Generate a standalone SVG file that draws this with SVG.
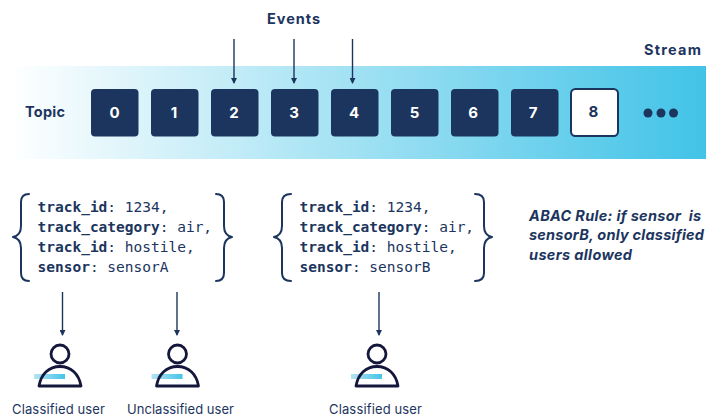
<svg xmlns="http://www.w3.org/2000/svg" width="706" height="420" viewBox="0 0 706 420">
<style>
.s{font-family:"Inter","Noto Sans",sans-serif}
.h{font-size:14.500px;font-weight:700;fill:#1c355e}
.n{font-size:15px;font-weight:700;text-anchor:middle;fill:#fff}
.b{fill:#1c355e}
.m{font-family:"DejaVu Sans Mono","Liberation Mono",monospace;font-size:14.500px;fill:#1c355e}
.m tspan{font-weight:700}
.c{fill:none;stroke:#1c355e;stroke-width:2;stroke-linecap:round;stroke-linejoin:round}
.l{stroke:#1c355e;stroke-width:1.400;fill:none;marker-end:url(#a)}
.u{font-size:13px;fill:#1c355e}
.p{fill:none;stroke:#14163c;stroke-width:2.800;stroke-linejoin:round}
.r{font-size:14.500px;font-weight:700;font-style:italic;fill:#1c355e}
</style>
<defs>
<linearGradient id="g" x1="0" x2="1" y1="0" y2="0"><stop offset="0" stop-color="#fff"/><stop offset="1" stop-color="#41c3e7"/></linearGradient>
<linearGradient id="pg" x1="0" x2="1" y1="0" y2="0"><stop offset="0" stop-color="#b5e3f2"/><stop offset="1" stop-color="#44c4e8"/></linearGradient>
<marker id="a" markerWidth="6" markerHeight="6" refX="5" refY="3" orient="auto" markerUnits="userSpaceOnUse"><path d="M0 0L6 3L0 6Z" fill="#1c355e"/></marker>
<g id="person"><rect x="-26" y="20" width="31" height="5" fill="url(#pg)"/><circle cx="0" cy="0" r="9" class="p"/><path class="p" d="M-21 32C-19 20 -11 12.500 0 12.500C11 12.500 19 20 21 32Z"/></g>
</defs>
<rect id="band" x="10" y="66" width="696" height="93" fill="url(#g)"/>
<text class="s h" x="25" y="117" textLength="40">Topic</text>
<text class="s h" x="267" y="24" textLength="53">Events</text>
<text class="s h" x="644" y="55" textLength="57">Stream</text>
<g id="n0"><rect class="b" x="91" y="89" width="47.500" height="47.500" rx="4"/><text class="s n" x="114.500" y="118">0</text></g>
<g id="n1"><rect class="b" x="151" y="89" width="47.500" height="47.500" rx="4"/><text class="s n" x="174" y="118">1</text></g>
<g id="n2"><rect class="b" x="211" y="89" width="47.500" height="47.500" rx="4"/><text class="s n" x="234" y="118">2</text></g>
<g id="n3"><rect class="b" x="271" y="89" width="47.500" height="47.500" rx="4"/><text class="s n" x="294" y="118">3</text></g>
<g id="n4"><rect class="b" x="331" y="89" width="47.500" height="47.500" rx="4"/><text class="s n" x="354" y="118">4</text></g>
<g id="n5"><rect class="b" x="391" y="89" width="47.500" height="47.500" rx="4"/><text class="s n" x="414.500" y="118">5</text></g>
<g id="n6"><rect class="b" x="451" y="89" width="47.500" height="47.500" rx="4"/><text class="s n" x="473" y="118">6</text></g>
<g id="n7"><rect class="b" x="511" y="89" width="47.500" height="47.500" rx="4"/><text class="s n" x="533" y="118">7</text></g>
<g id="n8"><rect x="571" y="89" width="47" height="47" rx="4.500" fill="#fff" stroke="#1c355e" stroke-width="2"/><text class="s n" x="593.500" y="117" style="fill:#1c355e">8</text></g>
<g id="more" class="b"><circle cx="648" cy="113" r="4.500"/><circle cx="661" cy="113" r="4.500"/><circle cx="673.500" cy="113" r="4.500"/></g>
<g id="connectors">
<path class="l" d="M234 39V83"/><path class="l" d="M294 39V83"/><path class="l" d="M352.500 39V83"/>
<path class="l" d="M62.500 292V335"/><path class="l" d="M177 292V335"/><path class="l" d="M379 292V335"/>
</g>
<g id="recA">
<path class="c" d="M29 194C23 194 21 197 21 202V226C21 232 18 236 13 237C18 238 21 242 21 248V273C21 278 23 281 29 281"/>
<path class="c" d="M216 194C222 194 224 197 224 202V226C224 232 227 236 232 237C227 238 224 242 224 248V273C224 278 222 281 216 281"/>
<text class="m" x="37.500" y="212"><tspan>track_id</tspan>: 1234,</text>
<text class="m" x="37.500" y="232"><tspan>track_category</tspan>: air,</text>
<text class="m" x="37.500" y="252"><tspan>track_id</tspan>: hostile,</text>
<text class="m" x="37.500" y="272"><tspan>sensor</tspan>: sensorA</text>
</g>
<g id="recB">
<path class="c" d="M291 194C284 194 282 197 282 202V226C282 232 279 236 274 237C279 238 282 242 282 248V273C282 278 284 281 291 281"/>
<path class="c" d="M475 194C482 194 484 197 484 202V226C484 232 487 236 492 237C487 238 484 242 484 248V273C484 278 482 281 475 281"/>
<text class="m" x="299.500" y="212"><tspan>track_id</tspan>: 1234,</text>
<text class="m" x="299.500" y="232"><tspan>track_category</tspan>: air,</text>
<text class="m" x="299.500" y="252"><tspan>track_id</tspan>: hostile,</text>
<text class="m" x="299.500" y="272"><tspan>sensor</tspan>: sensorB</text>
</g>
<text class="s r" x="529" y="221" xml:space="preserve" textLength="172">ABAC Rule: if sensor  is</text>
<text class="s r" x="529" y="240" textLength="175">sensorB, only classified</text>
<text class="s r" x="529" y="260" textLength="103">users allowed</text>
<g id="u1"><use href="#person" x="60" y="354"/><text class="s u" x="12" y="414" textLength="93">Classified user</text></g>
<g id="u2"><use href="#person" x="177.500" y="354"/><text class="s u" x="127" y="414" textLength="107">Unclassified user</text></g>
<g id="u3"><use href="#person" x="377" y="354"/><text class="s u" x="329" y="414" textLength="93">Classified user</text></g>
</svg>
